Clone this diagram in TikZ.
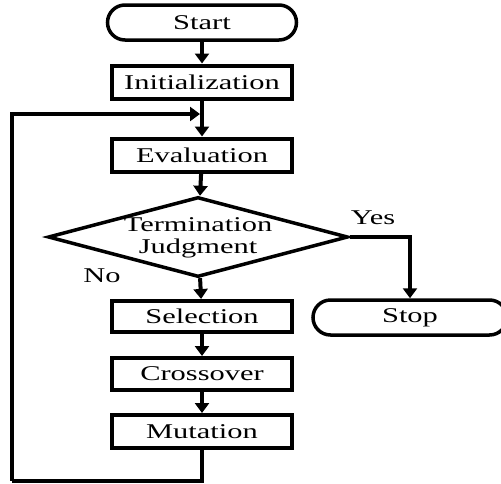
\documentclass[tikz,border=0pt]{standalone}
\usepackage{fontspec}
\setmainfont{Liberation Serif}[FakeStretch=1.45]
\usetikzlibrary{arrows.meta,shapes.geometric,shapes.misc}

\tikzset{
  process/.style={draw,line width=4pt,minimum width=180pt,minimum height=33pt,inner sep=0pt},
  terminal/.style={draw,line width=3.5pt,rounded rectangle,minimum width=189pt,minimum height=35pt,inner sep=0pt},
  decision/.style={draw,line width=3.5pt,diamond,minimum width=300pt,minimum height=80pt,inner sep=0pt},
  flow/.style={line width=4pt,-{Triangle[width=14pt,length=10pt]}},
  loopline/.style={line width=4pt}
}

\begin{document}
\begin{tikzpicture}[x=1pt,y=-1pt,font=\fontsize{21}{22}\selectfont]
\useasboundingbox (0,0) rectangle (501,483);

%Main steps
\node (start) at (202,22.5) [terminal] {Start};
\node (init)  at (202,82)   [process] {Initialization};
\node (eval)  at (202,155)  [process] {Evaluation};
\node (judge) at (198,237)  [decision] {};
\node (judgetext) at (198,238) [align=center] {Termination\\[0pt]Judgment};
\node (sel)   at (202,316.5) [process,minimum height=31pt] {Selection};
\node (cross) at (202,374)  [process,minimum height=32pt] {Crossover};
\node (mut)   at (202,431.5) [process] {Mutation};
\node (stop)  at (410,317.5) [terminal,minimum width=194pt] {Stop};

\node (yes) at (373,218) {Yes};
\node (no)  at (102,276) {No};

\coordinate (loopbot) at (12,480.5);
\coordinate (join) at (200,114);

\draw[flow] (start) -- (init);
\draw[flow] (init) -- (eval);
\draw[flow] (eval) -- (judge);
\draw[flow] (judge) -- (sel);
\draw[flow] (sel) -- (cross);
\draw[flow] (cross) -- (mut);
\draw[flow] (judge.east) -| (stop.north);

%back to Evaluation
\draw[loopline] (mut.south) |- (loopbot);
\draw[flow] (loopbot) |- (join);

\end{tikzpicture}
\end{document}
